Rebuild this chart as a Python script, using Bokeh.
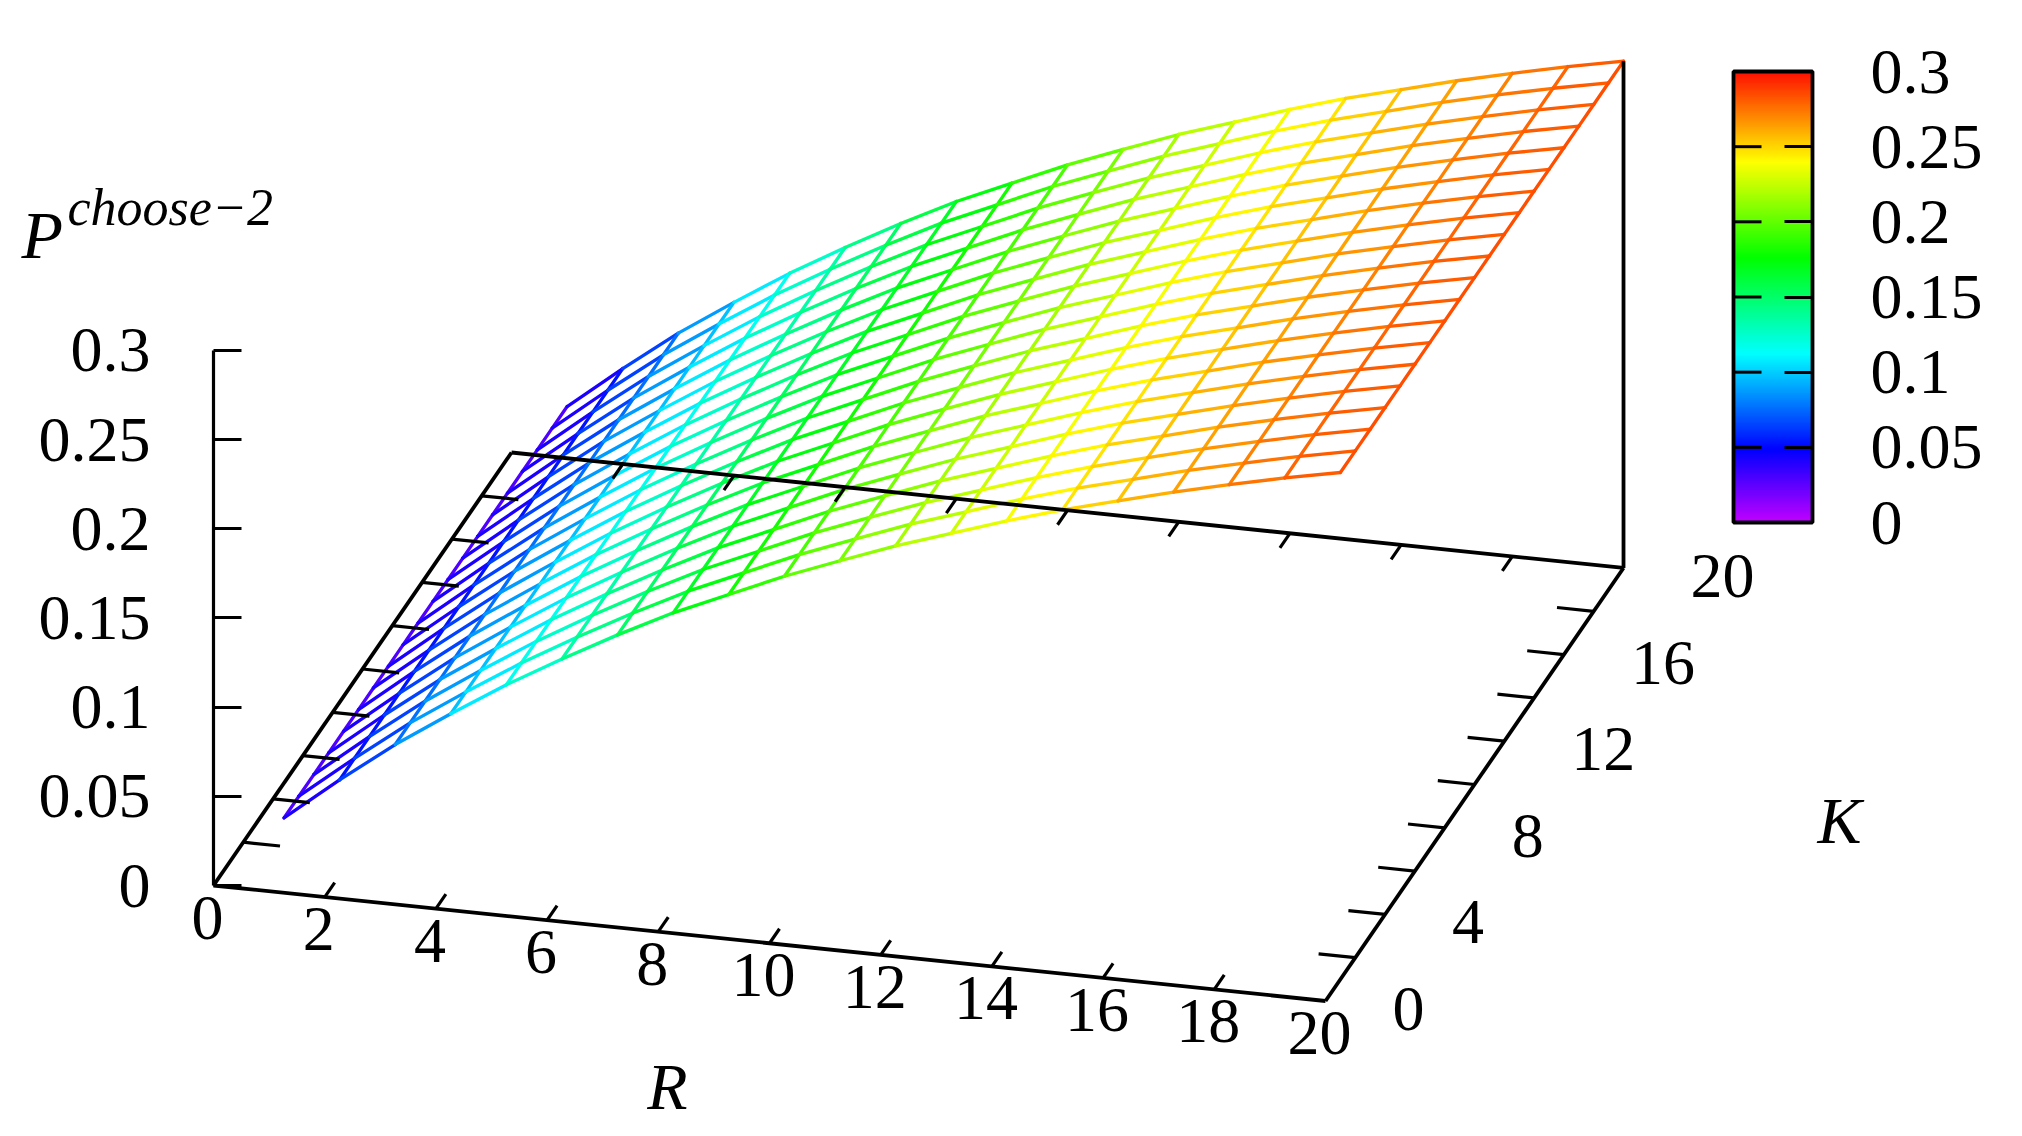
import colorsys
from bokeh.plotting import figure
from bokeh.models import (ColorBar, ColumnDataSource, FixedTicker, LinearAxis,
                          LinearColorMapper, Range1d)
from bokeh.core.properties import value
from bokeh.embed import file_html
from bokeh.resources import INLINE

# ---- data -----------------------------------------------------------------
R_values = list(range(1, 21))
K_values = list(range(1, 21))
# surface height for each R (within reading precision it does not change with K)
P_by_R = [0.0290, 0.0535, 0.0766, 0.0971, 0.1166, 0.1343, 0.1510, 0.1666, 0.1801, 0.1936,
          0.2055, 0.2171, 0.2273, 0.2376, 0.2470, 0.2552, 0.2634, 0.2708, 0.2778, 0.2841]
R_ticks = [2, 4, 6, 8, 10, 12, 14, 16, 18]
R_labels = [0, 2, 4, 6, 8, 10, 12, 14, 16, 18, 20]
K_ticks = [2, 4, 6, 8, 10, 12, 14, 16, 18]
K_labels = [0, 4, 8, 12, 16, 20]
P_ticks = [0, 0.05, 0.1, 0.15, 0.2, 0.25, 0.3]
P_tick_text = ["0", "0.05", "0.1", "0.15", "0.2", "0.25", "0.3"]

# ---- oblique projection (R, K, P) -> plot units ----------------------------
SKEW_X = 0.268      # x shift per unit of K, in R units
DROP_R = 0.003237   # downward shift per unit of R, in P units
RISE_K = 0.012136   # upward shift per unit of K, in P units
PX_R = 55.6         # px per R unit
PX_P = 1784.0       # px per P unit
X0, Y0 = 213, 885.0   # picture position of the origin
W, H = 2006, 1120
TICK_FONT = "64px"
FONT = value("Liberation Serif")


def px(R, K):
    return R + K * SKEW_X


def py(R, K, P=0.0):
    return P - R * DROP_R + K * RISE_K


def page(x, y):
    """picture pixel position -> plot units"""
    return (x - X0) / PX_R, (Y0 - y) / PX_P


p = figure(width=W, height=H, output_backend="svg", toolbar_location=None,
           x_range=Range1d(-X0 / PX_R, (W - X0) / PX_R),
           y_range=Range1d((Y0 - H) / PX_P, Y0 / PX_P),
           x_axis_type=None, y_axis_type=None,
           min_border_left=0, min_border_right=0, min_border_top=0, min_border_bottom=0,
           outline_line_color=None, background_fill_color="white")
p.grid.visible = False

# palette
palette = []
for i in range(256):
    hue = (285 - (285 - 4) * i / 255) / 360
    r, g, b = colorsys.hsv_to_rgb(hue, 1, 1)
    palette.append("#%02x%02x%02x" % (round(r * 255), round(g * 255), round(b * 255)))
mapper = LinearColorMapper(palette=palette, low=0, high=0.3)

# surface mesh
x0, y0, x1, y1, zm = [], [], [], [], []
for i, R in enumerate(R_values):
    P = P_by_R[i]
    for j, K in enumerate(K_values):
        if j + 1 < len(K_values):
            K2 = K_values[j + 1]
            x0.append(px(R, K)); y0.append(py(R, K, P))
            x1.append(px(R, K2)); y1.append(py(R, K2, P))
            zm.append(P)
        if i + 1 < len(R_values):
            R2, P2 = R_values[i + 1], P_by_R[i + 1]
            x0.append(px(R, K)); y0.append(py(R, K, P))
            x1.append(px(R2, K)); y1.append(py(R2, K, P2))
            zm.append((P + P2) / 2)
p.segment("x0", "y0", "x1", "y1", source=ColumnDataSource(dict(x0=x0, y0=y0, x1=x1, y1=y1, z=zm)),
          line_color={"field": "z", "transform": mapper}, line_width=3.3, line_cap="round")

# base frame: front, back, left and right edges of the floor, corner post
Rmax, Kmax = R_labels[-1], K_labels[-1]
fx0 = [px(0, 0), px(0, Kmax), px(0, 0), px(Rmax, 0), px(Rmax, Kmax)]
fy0 = [py(0, 0), py(0, Kmax), py(0, 0), py(Rmax, 0), py(Rmax, Kmax)]
fx1 = [px(Rmax, 0), px(Rmax, Kmax), px(0, Kmax), px(Rmax, Kmax), px(Rmax, Kmax)]
fy1 = [py(Rmax, 0), py(Rmax, Kmax), py(0, Kmax), py(Rmax, Kmax), py(Rmax, Kmax, P_by_R[-1])]
p.segment(fx0, fy0, fx1, fy1, line_color="black", line_width=3.8)

# floor ticks
TICK_K = 0.67
TICK_R = 0.66
tx0, ty0, tx1, ty1 = [], [], [], []
for R in R_ticks:
    tx0 += [px(R, 0), px(R, Kmax)]
    ty0 += [py(R, 0), py(R, Kmax)]
    tx1 += [px(R, TICK_K), px(R, Kmax - TICK_K)]
    ty1 += [py(R, TICK_K), py(R, Kmax - TICK_K)]
for K in K_ticks:
    tx0 += [px(0, K), px(Rmax, K)]
    ty0 += [py(0, K), py(Rmax, K)]
    tx1 += [px(TICK_R, K), px(Rmax - TICK_R, K)]
    ty1 += [py(TICK_R, K), py(Rmax - TICK_R, K)]
p.segment(tx0, ty0, tx1, ty1, line_color="black", line_width=3.2)

# P axis: a real axis pinned at the floor's corner
axis = LinearAxis(ticker=FixedTicker(ticks=P_ticks), bounds=(0, 0.3), fixed_location=0,
                  major_label_overrides=dict(zip(P_ticks, P_tick_text)),
                  major_tick_in=28, major_tick_out=0, minor_tick_line_color=None,
                  major_tick_line_width=3.2, axis_line_width=3.2, major_label_standoff=63,
                  major_label_text_font="Liberation Serif", major_label_text_font_size=TICK_FONT,
                  major_label_text_color="black", major_label_orientation="horizontal")
p.add_layout(axis, "left")

# R and K tick labels
p.text([px(R, 0) for R in R_labels], [py(R, 0) for R in R_labels], text=[str(v) for v in R_labels],
       x_offset=-6, y_offset=32, text_align="center", text_baseline="middle",
       text_font=FONT, text_font_size=TICK_FONT, text_color="black")
p.text([px(Rmax, K) for K in K_labels], [py(Rmax, K) for K in K_labels], text=[str(v) for v in K_labels],
       x_offset=67, y_offset=8, text_align="left", text_baseline="middle",
       text_font=FONT, text_font_size=TICK_FONT, text_color="black")

# axis titles
for txt, xy, size, align in [("R", (667, 1086), "66px", "center"),
                             ("K", (1839, 820), "66px", "center"),
                             ("P", (21, 234), "68px", "left"),
                             ("choose\u22122", (67, 207), "52px", "left")]:
    X, Y = page(*xy)
    p.text([X], [Y], text=[txt], text_font=FONT, text_font_style="italic", text_font_size=size,
           text_align=align, text_baseline="middle", text_color="black")

# colour bar
BAR_L, BAR_R, BAR_T, BAR_B = 1733, 1812, 71, 522
bar = ColorBar(color_mapper=mapper, ticker=FixedTicker(ticks=P_ticks),
               major_label_overrides=dict(zip(P_ticks, P_tick_text)),
               location=(BAR_L, H - BAR_B), width=BAR_R - BAR_L, height=BAR_B - BAR_T,
               padding=0, background_fill_alpha=0, border_line_color=None,
               bar_line_color="black", bar_line_width=3.8,
               major_tick_in=28, major_tick_line_color="black", major_tick_line_width=3,
               minor_tick_line_color=None, label_standoff=58,
               major_label_text_font="Liberation Serif", major_label_text_font_size=TICK_FONT,
               major_label_text_color="black")
p.add_layout(bar, "center")

# ticks on the bar's left side
inner = [t for t in P_ticks[1:-1]]
ly = [page(0, BAR_B - (BAR_B - BAR_T) * t / 0.3)[1] for t in inner]
p.segment([page(BAR_L, 0)[0]] * len(inner), ly, [page(BAR_L + 28, 0)[0]] * len(inner), ly,
          line_color="black", line_width=3, level="overlay")

open("out.html", "w").write(file_html(p, INLINE))
